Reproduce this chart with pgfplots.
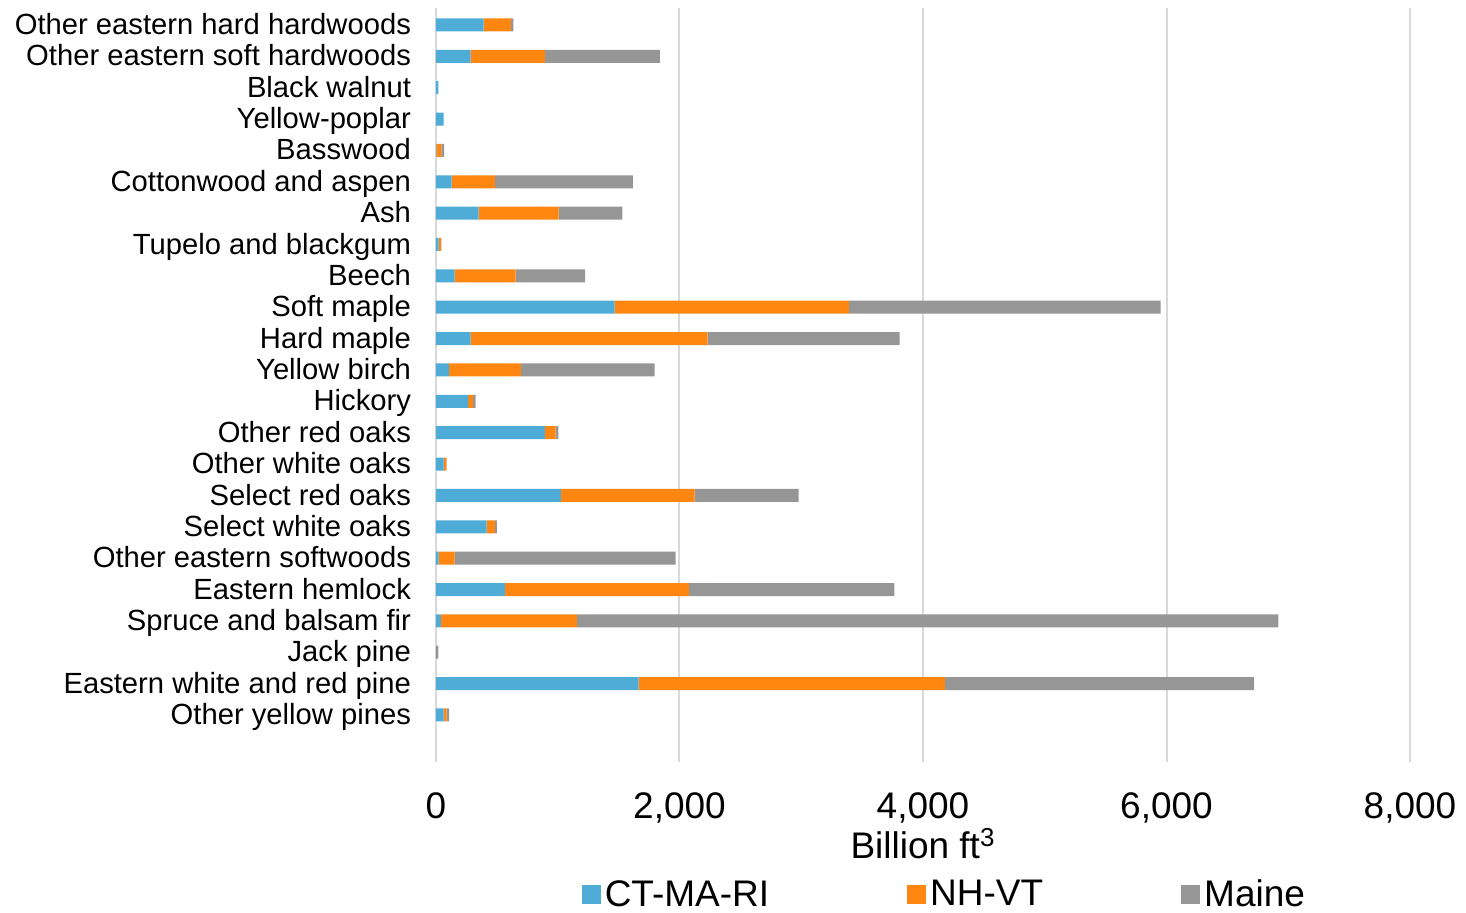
\documentclass[border=0pt]{standalone}
\usepackage{pgfplots}
\pgfplotsset{compat=1.18}
\usepackage{fontspec}
\setmainfont{Liberation Sans}
\definecolor{cblue}{RGB}{79,172,214}
\definecolor{corange}{RGB}{255,135,17}
\definecolor{cgray}{RGB}{150,150,150}
\definecolor{cgrid}{RGB}{217,217,217}
\begin{document}
\begin{tikzpicture}
\path[use as bounding box] (-218pt,-75pt) rectangle (515pt,381pt);
\begin{axis}[
  at={(0,0)}, anchor=south west,
  scale only axis,
  width=487pt, height=377pt,
  xbar stacked,
  bar width=6.5pt,
  xmin=0, xmax=8000,
  ymin=-1.5, ymax=22.54,
  xtick={0,2000,4000,6000,8000},
  ytick={0,...,22},
  yticklabels={Other yellow pines,Eastern white and red pine,Jack pine,Spruce and balsam fir,Eastern hemlock,Other eastern softwoods,Select white oaks,Select red oaks,Other white oaks,Other red oaks,Hickory,Yellow birch,Hard maple,Soft maple,Beech,Tupelo and blackgum,Ash,Cottonwood and aspen,Basswood,Yellow-poplar,Black walnut,Other eastern soft hardwoods,Other eastern hard hardwoods},
  /pgf/number format/assume math mode=true,
  /pgf/number format/1000 sep={,},
  scaled x ticks=false,
  xmajorgrids,
  grid style={cgrid, line width=1pt},
  axis line style={draw=none},
  tick style={draw=none},
  xticklabel style={font=\fontsize{18.5}{20}\selectfont, yshift=-12pt},
  yticklabel style={font=\fontsize{14.6}{16}\selectfont, xshift=-9pt, yshift=-2.2pt, text height=0.72em, text depth=0.2em},
  xlabel={Billion ft\textsuperscript{3}},
  xlabel style={font=\fontsize{18.5}{20}\selectfont, at={(axis description cs:0.5,-0.108)}, anchor=center},
  legend columns=3,
  legend style={draw=none, fill=none, at={(axis description cs:0.523,-0.176)}, anchor=center,
    font=\fontsize{18.5}{20}\selectfont, /tikz/every even column/.append style={column sep=67pt},
    inner sep=0pt},
  legend cell align=left,
  legend image code/.code={\fill[#1] (0pt,-4.8pt) rectangle (9.5pt,4.8pt);},
]
\addplot[fill=cblue, draw=none] coordinates {
(63,0) (1664,1) (0,2) (41,3) (567,4) (22,5) (416,6) (1026,7) (63,8) (895,9) (263,10) (107,11) (285,12) (1467,13) (154,14) (22,15) (351,16) (129,17) (3,18) (63,19) (20,20) (285,21) (392,22)};
\addplot[fill=corange, draw=none] coordinates {
(25,0) (2515,1) (0,2) (1117,3) (1510,4) (132,5) (68,6) (1098,7) (22,8) (88,9) (41,10) (591,11) (1946,12) (1924,13) (500,14) (19,15) (656,16) (355,17) (41,18) (0,19) (0,20) (610,21) (224,22)};
\addplot[fill=cgray, draw=none] coordinates {
(19,0) (2540,1) (20,2) (5761,3) (1687,4) (1814,5) (17,6) (854,7) (3,8) (22,9) (22,10) (1098,11) (1576,12) (2561,13) (570,14) (3,15) (523,16) (1133,17) (22,18) (0,19) (0,20) (944,21) (19,22)};
\legend{CT-MA-RI,NH-VT,Maine}
\end{axis}
\end{tikzpicture}
\end{document}
